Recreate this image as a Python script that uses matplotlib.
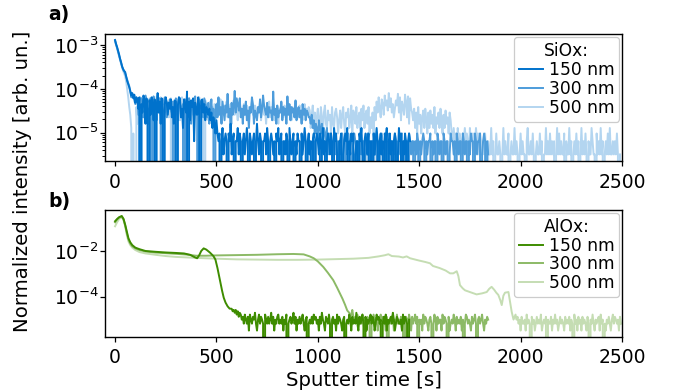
import numpy as np
import matplotlib
matplotlib.use("Agg")
import matplotlib.pyplot as plt
from matplotlib.ticker import FixedLocator, LogLocator, NullLocator, NullFormatter, LogFormatterSciNotation

plt.rcParams['font.family'] = ['DejaVu Sans']
plt.rcParams['mathtext.fontset'] = 'dejavusans'

# ---------------- DATA ----------------
DT = 5.0                       # sampling step [s]
SIOX_UNIT = 3.2e-6             # one count in normalized intensity (SiOx)
ALOX_UNIT = 3.3e-6             # one count in normalized intensity (AlOx)
thickness_labels = ["150 nm", "300 nm", "500 nm"]

# SiOx: first samples as count lists, then counts written one character per
# sample in base 36 (0-9, a=10 ... z=35), all sampled every DT from t = 0.
siox_150_head = [406, 330, 280, 230, 190, 150, 125, 100, 88, 80, 75, 60, 47, 40, 34]
siox_150_body = ("smpjn"
                 "fkibk0e9mh" "5jb0h8kd6i" "0cp9g5ja0e" "kf8fbi7c5h" "g0dkj7b4ie" "9r0g6hcj2f" "a8kd0gi9e6"
                 "ca8b69475363"
                 "2302412320" "3251230224" "1320231242" "0321230252" "1320223142" "0232120324"
                 "1230221320" "4212302132" "2031242023" "1202302321" "3024120232" "1320423102"
                 "2301232402" "1323012203" "2410232130" "2203124202" "3120324023" "1202320142"
                 "3021320232")

siox_300_head = [390, 320, 270, 220, 180, 145, 120, 100, 85, 78, 70, 58, 50, 42, 36]
siox_300_body = ("rkolh"
                 "eki8h0jd7g" "mab5ic0fl9" "e6hbj80dgk" "a7fcib9g0e" "jd6kh8ce0i" "bf7jd5hg9l" "8c0igbe7jf"
                 "c7f5ai6b09" "e7k8c5ga6d" "9o7b4f8cs9" "jeaj7b5d8g" "6a4c9ke5a8" "6c9i7bmda8"
                 "f7c9a6r8b5" "d7a9g6c8b5" "l8e6c9b7h6" "9c7a5e8b6a" "97"
                 "7584635426" "4352432413" "2312231202"
                 "2132022132" "2012321202" "3122021322" "1022312021" "2320122312" "0221320212"
                 "2302122032" "1220213202" "1232021223" "0212203212" "2032122013" "2212032122"
                 "0321220213" "2203212230" "1232021")

siox_500_head = [380, 310, 260, 210, 170, 140, 115, 95, 80, 70, 60, 45, 30, 20, 12]
siox_500_body = ("84030"
                 "0c5ifk9hd7" "ghb5jea8g0" "cle9fk6id9" "kbg7ej0cha" "f8ib6dk9g0" "he7jcfa8ig" "db9kf7ec0h"
                 "9d6bg8c5ea" "7f9ci6b8da" "g7c9e5bh8d" "a6cf9b7ea8" "d6c9bg8adb" "7c9e6bf8a5"
                 "dbg7c9e6a8" "c5b9fa7dc6" "9e8b6ca7f9" "b7d8a6ce9b" "8c"
                 "a48d5937b6" "4c739d54a6" "83c549b736" "a48c5397b4" "6d3a85c479" "3b6d48a5c3" "7493"
                 "c6g9kb7ie8" "mdhapcj9e7" "bhdo9k6gc8" "ng7l5jb9"
                 "6b493c5837" "a4b6394a58" "4c37594b63" "84a57396"
                 "3242314232" "1324232142" "2312423132"
                 "1213102114" "1201311210" "1412113012" "1141210131" "2110241121" "3101211312"
                 "0114121312" "1201413121" "1302114120" "1213120141" "2131021142" "1103121412"
                 "0121314112" "1213101")

# AlOx: smooth part (time [s], normalized intensity), then noise counts every DT
alox_150_t = [0, 10, 20, 33, 42, 50, 58, 66, 75, 85, 100, 120, 150, 200, 250, 300, 340,
              370, 395, 405, 415, 425, 437, 450, 468, 485, 495, 505, 512, 520, 528, 536,
              545, 555, 565]
alox_150_v = [0.20, 0.25, 0.30, 0.34, 0.25, 0.14, 0.07, 0.036, 0.024, 0.018, 0.014, 0.012,
              0.010, 0.0092, 0.0086, 0.0082, 0.0078, 0.0068, 0.0052, 0.0048, 0.0065, 0.010,
              0.013, 0.0115, 0.0085, 0.006, 0.0042, 0.0018, 9e-4, 4e-4, 1.8e-4, 9e-5,
              5.5e-5, 3.8e-5, 3e-5]
alox_150_noise_start = 575
alox_150_noise = ("9786857465" "3425324153" "2436213524" "3205324236" "2413245232" "4132502342"
                  "3624132423" "5213402324" "2534231426" "3214325203" "4231524321" "3402325314"
                  "2326214235" "2041323524" "3125342302" "4251323426" "312432" "2315243203")

alox_300_t = [0, 10, 20, 33, 42, 50, 58, 66, 75, 85, 100, 120, 150, 200, 250, 300, 350,
              400, 450, 500, 600, 700, 800, 880, 930, 960, 980, 1000, 1027, 1050, 1076,
              1095, 1109, 1122, 1134, 1145]
alox_300_v = [0.18, 0.24, 0.29, 0.32, 0.24, 0.13, 0.06, 0.032, 0.021, 0.016, 0.013, 0.011,
              0.0095, 0.0085, 0.008, 0.0075, 0.007, 0.0062, 0.0062, 0.0064, 0.0066, 0.0068,
              0.0072, 0.0074, 0.0071, 0.0058, 0.0048, 0.0035, 0.002, 0.0011, 5.3e-4,
              2.5e-4, 1.4e-4, 8e-5, 4.5e-5, 2.5e-5]
alox_300_noise_start = 1155
alox_300_noise = ("6458434352" "3425213243" "2043532412" "3524231402" "3245132523" "2413024325"
                  "3142352403" "2315243213" "4202531423" "3152432041" "2325314232" "4130254232"
                  "1423520342" "35213243")

alox_500_t = [0, 10, 20, 33, 42, 50, 58, 66, 75, 85, 100, 120, 150, 200, 250, 300, 400,
              500, 600, 700, 800, 900, 1000, 1100, 1175, 1250, 1300, 1330, 1348, 1365,
              1400, 1420, 1438, 1455, 1500, 1530, 1553, 1568, 1600, 1630, 1652, 1668,
              1685, 1693, 1701, 1715, 1726, 1750, 1783, 1810, 1833, 1845, 1857, 1870,
              1880, 1890, 1900, 1907, 1915, 1923, 1940, 1948, 1956, 1965]
alox_500_v = [0.12, 0.18, 0.25, 0.30, 0.22, 0.12, 0.05, 0.026, 0.018, 0.014, 0.011, 0.009,
              0.0078, 0.0068, 0.006, 0.0055, 0.005, 0.0046, 0.0043, 0.0042, 0.0041, 0.0041,
              0.0042, 0.0044, 0.0046, 0.005, 0.0058, 0.0065, 0.0072, 0.006, 0.0057, 0.0052,
              0.0058, 0.0048, 0.0038, 0.0033, 0.0029, 0.0022, 0.0018, 0.0014, 0.00105,
              0.00105, 0.0013, 8e-4, 3.2e-4, 2.3e-4, 1.9e-4, 1.6e-4, 1.26e-4, 1.4e-4,
              1.6e-4, 2.2e-4, 2.7e-4, 2e-4, 1.5e-4, 1.2e-4, 7e-5, 4.3e-5, 1.1e-4, 1.5e-4,
              1.6e-4, 6e-5, 2.2e-5, 1e-5]
alox_500_noise_start = 1975
alox_500_noise = ("5342314223" "1523204231" "2423251232" "4032241325" "2312423214" "2324132052"
                  "3142314232" "1420325213" "2341523021" "3242135243" "23142")

blue_colors = ['#0072cc', '#4d9cdb', '#b3d5f0']
green_colors = ['#3e8c00', '#8cba66', '#c5ddb3']

# ---------------- FIGURE ----------------
TICK_FS = 13.5
LEG_FS = 12.3
LW = 1.4


def decode(s):
    return [int(ch, 36) for ch in s]


def siox_series(head, body):
    c = np.asarray(list(head) + decode(body), dtype=float)
    return DT * np.arange(len(c)), c * SIOX_UNIT


def alox_series(t, v, start, noise):
    n = np.asarray(decode(noise), dtype=float)
    tn = start + DT * np.arange(len(n))
    return np.concatenate([t, tn]), np.concatenate([v, n * ALOX_UNIT])


fig = plt.figure(figsize=(6.73, 3.91), dpi=100)
ax1 = fig.add_axes([0.1565, 0.589, 0.7677, 0.3233])
ax2 = fig.add_axes([0.1565, 0.1389, 0.7677, 0.324])

siox = [(siox_150_head, siox_150_body), (siox_300_head, siox_300_body), (siox_500_head, siox_500_body)]
handles = [None] * 3
for i in [2, 1, 0]:
    t, y = siox_series(*siox[i])
    handles[i], = ax1.plot(t, y, color=blue_colors[i], lw=LW, label=thickness_labels[i])

alox = [(alox_150_t, alox_150_v, alox_150_noise_start, alox_150_noise),
        (alox_300_t, alox_300_v, alox_300_noise_start, alox_300_noise),
        (alox_500_t, alox_500_v, alox_500_noise_start, alox_500_noise)]
handles2 = [None] * 3
for i in [2, 1, 0]:
    t, y = alox_series(*alox[i])
    handles2[i], = ax2.plot(t, y, color=green_colors[i], lw=LW, label=thickness_labels[i])

for ax in (ax1, ax2):
    ax.set_yscale('log')
    ax.set_xlim(-48, 2500)
    ax.set_xticks([0, 500, 1000, 1500, 2000, 2500])
    ax.tick_params(axis='both', which='major', labelsize=TICK_FS, length=3.5, width=0.9, direction='out')
    ax.tick_params(axis='x', pad=5)
    ax.tick_params(axis='y', which='major', pad=1.5)
    ax.tick_params(axis='y', which='minor', length=2, width=0.7)
    for s in ax.spines.values():
        s.set_linewidth(1.0)
        s.set_color('black')

ax1.set_ylim(2.3e-6, 1.75e-3)
ax1.yaxis.set_major_locator(FixedLocator([1e-5, 1e-4, 1e-3]))
ax1.yaxis.set_major_formatter(LogFormatterSciNotation())
ax1.yaxis.set_minor_locator(LogLocator(base=10, subs=np.arange(2, 10)))
ax1.yaxis.set_minor_formatter(NullFormatter())

ax2.set_ylim(1.78e-6, 0.62)
ax2.yaxis.set_major_locator(FixedLocator([1e-4, 1e-2]))
ax2.yaxis.set_major_formatter(LogFormatterSciNotation())
ax2.yaxis.set_minor_locator(NullLocator())

leg_kw = dict(loc='upper right', fontsize=LEG_FS, title_fontsize=LEG_FS, borderaxespad=0.15,
              borderpad=0.3, labelspacing=0.05, handlelength=1.4, handletextpad=0.35,
              framealpha=1, fancybox=True)
l1 = ax1.legend(handles=handles, title='SiOx:', **leg_kw)
l2 = ax2.legend(handles=handles2, title='AlOx:', **leg_kw)
for lg in (l1, l2):
    lg.get_frame().set_edgecolor('#cccccc')
    lg.get_frame().set_linewidth(0.9)

fig.text(48 / 673, 1 - 5 / 391, 'a)', fontsize=13.5, fontweight='bold', va='top', ha='left')
fig.text(48 / 673, 1 - 192 / 391, 'b)', fontsize=13.5, fontweight='bold', va='top', ha='left')
fig.text(23 / 673, 1 - 181.5 / 391, 'Normalized intensity [arb. un.]', rotation=90,
         fontsize=14.2, va='center', ha='center')
fig.text(363.5 / 673, 1 - 386 / 391, 'Sputter time [s]', fontsize=14.2, va='baseline', ha='center')

fig.savefig('out.png', dpi=100)
